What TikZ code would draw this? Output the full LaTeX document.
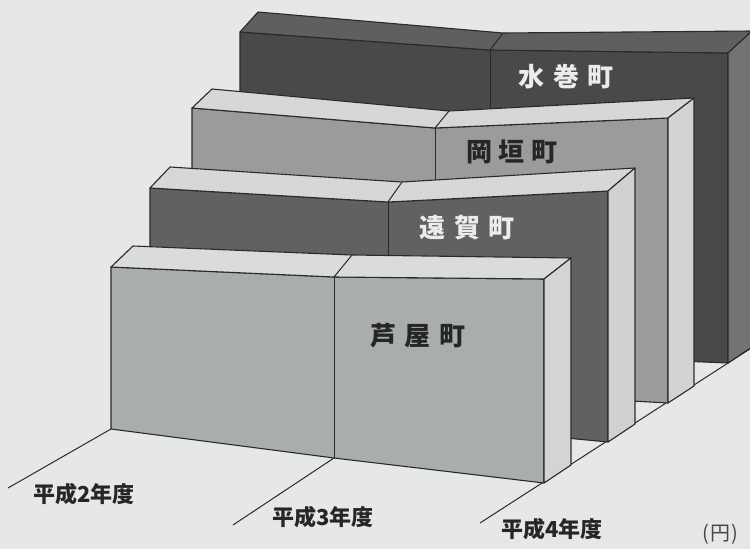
\documentclass[tikz,border=0pt]{standalone}
\usepackage{fontspec}
\newfontfamily\jp{Noto Sans CJK JP}
\definecolor{bg}{HTML}{E6E8E6}
\definecolor{edgec}{HTML}{2A2A2A}
\definecolor{fA}{HTML}{A9AEAC}
\definecolor{tA}{HTML}{DADCDA}
\definecolor{sA}{HTML}{D3D5D3}
\definecolor{fB}{HTML}{606262}
\definecolor{tB}{HTML}{D6D8D6}
\definecolor{sB}{HTML}{D0D2D0}
\definecolor{fC}{HTML}{9A9C9B}
\definecolor{tC}{HTML}{D6D8D6}
\definecolor{sC}{HTML}{D2D4D2}
\definecolor{fD}{HTML}{484949}
\definecolor{tD}{HTML}{5E6060}
\definecolor{sD}{HTML}{727473}
\definecolor{lightt}{HTML}{ECECEC}
\definecolor{darkt}{HTML}{262626}
\begin{document}
\begin{tikzpicture}[x=1pt,y=-1pt,
  face/.style={draw=edgec,line width=1.1pt,line join=round},
  divline/.style={draw=edgec,line width=1pt},
  floorline/.style={draw=edgec,line width=1pt},
  town/.style={font=\jp\bfseries\fontsize{26}{26}\selectfont,inner sep=0pt},
  year/.style={font=\jp\bfseries\fontsize{22}{22}\selectfont,inner sep=0pt,text=darkt},
]
\useasboundingbox[fill=bg] (0,0) rectangle (750,549);

% row 1 (front)
\coordinate (F1a) at (111,267); \coordinate (F1b) at (334,277); \coordinate (F1c) at (544,279);
\coordinate (B1a) at (133,246); \coordinate (B1b) at (352,255); \coordinate (B1c) at (571,258);
\coordinate (G1a) at (111,429); \coordinate (G1b) at (334,458); \coordinate (G1c) at (544,483);
\coordinate (H1c) at (571,465);
% row 2
\coordinate (F2a) at (150,188); \coordinate (F2b) at (388,202); \coordinate (F2c) at (608,191);
\coordinate (B2a) at (170,167); \coordinate (B2b) at (402,182); \coordinate (B2c) at (635,168);
\coordinate (G2a) at (150,406); \coordinate (G2b) at (388,421); \coordinate (G2c) at (608,442);
\coordinate (H2c) at (635,424);
% row 3
\coordinate (F3a) at (192,108); \coordinate (F3b) at (435,128); \coordinate (F3c) at (668,118);
\coordinate (B3a) at (212,89); \coordinate (B3b) at (449,111); \coordinate (B3c) at (694,98);
\coordinate (G3a) at (192,382); \coordinate (G3b) at (435,390); \coordinate (G3c) at (668,403);
\coordinate (H3c) at (694,386);
% row 4 (back)
\coordinate (F4a) at (240,32); \coordinate (F4b) at (490,50); \coordinate (F4c) at (728,53);
\coordinate (B4a) at (258,12); \coordinate (B4b) at (503,33); \coordinate (B4c) at (752,31);
\coordinate (G4a) at (240,354); \coordinate (G4b) at (490,353); \coordinate (G4c) at (728,363);
\coordinate (H4c) at (752,347);

% floor lines
\coordinate (L2s) at (8,488);
\coordinate (L3s) at (233,525);
\coordinate (L4s) at (480,523);
\coordinate (L4e) at (756,345);
\draw[floorline] (L2s) -- (G1a);
\draw[floorline] (L3s) -- (G1b);
\draw[floorline] (L4s) -- (L4e);

% slabs, back to front
\foreach \r/\fc/\tc/\sc in {4/fD/tD/sD, 3/fC/tC/sC, 2/fB/tB/sB, 1/fA/tA/sA}{
  \filldraw[face,fill=\fc] (F\r a) -- (F\r b) -- (F\r c) -- (G\r c) -- (G\r b) -- (G\r a) -- cycle;
  \draw[divline] (F\r b) -- (G\r b);
  \filldraw[face,fill=\tc] (F\r a) -- (B\r a) -- (B\r b) -- (B\r c) -- (F\r c) -- (F\r b) -- cycle;
  \draw[divline] (F\r b) -- (B\r b);
  \filldraw[face,fill=\sc] (F\r c) -- (B\r c) -- (H\r c) -- (G\r c) -- cycle;
}

% town labels
\node[town,text=lightt] (mizumaki) at (566,77) {水\hspace{9pt}巻\hspace{9pt}町};
\node[town,text=darkt] (okagaki) at (512,152) {岡\hspace{7pt}垣\hspace{7pt}町};
\node[town,text=lightt] (onga) at (467,228) {遠\hspace{9pt}賀\hspace{9pt}町};
\node[town,text=darkt] (ashiya) at (418,336) {芦\hspace{9pt}屋\hspace{9pt}町};

% year labels
\node[year] (y2) at (84,494) {平成2年度};
\node[year] (y3) at (323,517) {平成3年度};
\node[year] (y4) at (552,529) {平成4年度};
\node[font=\jp\fontsize{20}{20}\selectfont,inner sep=0pt,text=darkt!85] (unit) at (720,534) {(\kern1pt円\kern1pt)};
\end{tikzpicture}
\end{document}
